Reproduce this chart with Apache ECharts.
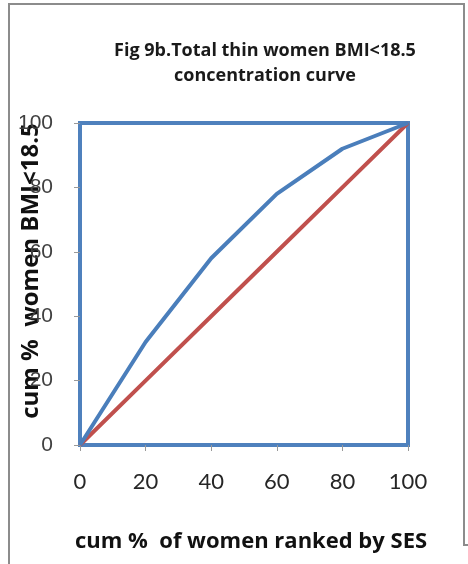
<!DOCTYPE html>
<html>
<head>
<meta charset="utf-8">
<script src="https://cdn.jsdelivr.net/npm/echarts@6/dist/echarts.min.js"></script>
<style>
  html, body { margin: 0; padding: 0; background: #fff; }
  #chart { width: 468px; height: 564px; }
</style>
</head>
<body>
<div id="chart"></div>
<script>
const cumPop = [0, 20, 40, 60, 80, 100];
const cumThin = [0, 32, 58, 78, 92, 100];
const equality = [0, 20, 40, 60, 80, 100];
const xTicks = [0, 20, 40, 60, 80, 100];
const yTicks = [0, 20, 40, 60, 80, 100];

const chart = echarts.init(document.getElementById('chart'));

chart.setOption({
    animation: false,
    title: {
        text: 'Fig 9b.Total thin women BMI<18.5\nconcentration curve',
        left: 260, top: 33, textAlign: 'center',
        textStyle: { fontFamily: 'Open Sans', fontWeight: 'bold', fontSize: 18, color: '#1a1a1a', lineHeight: 25, align: 'center' }
    },
    graphic: [
        { type: 'polyline', shape: { points: [[9, 564], [9, 4], [464, 4], [464, 545], [468, 545]] },
          style: { stroke: '#8c8c8c', lineWidth: 2, fill: null } }
    ],
    grid: { left: 80, right: 60, top: 123, bottom: 119, outerBoundsMode: 'none', containLabel: false,
            show: true, borderColor: '#4f81bd', borderWidth: 4, backgroundColor: 'transparent' },
    xAxis: {
        type: 'value', min: 0, max: 100, interval: 20,
        name: 'cum %  of women ranked by SES', nameLocation: 'middle', nameGap: 86, nameMoveOverlap: false,
        nameTextStyle: { fontFamily: 'Open Sans', fontWeight: 'bold', fontSize: 22, color: '#111', padding: [0, 0, 0, 14] },
        axisLine: { show: false },
        axisTick: { show: true, length: 6, lineStyle: { color: '#999', width: 1 } },
        axisLabel: { fontFamily: 'Lato', fontSize: 22, color: '#262626', margin: 26, formatter: v => xTicks.includes(v) ? String(v) : '' },
        splitLine: { show: false }
    },
    yAxis: {
        type: 'value', min: 0, max: 100, interval: 20,
        name: 'cum %  women BMI<18.5', nameLocation: 'middle', nameGap: 37, nameRotate: 90, nameMoveOverlap: false,
        nameTextStyle: { fontFamily: 'Open Sans', fontWeight: 'bold', fontSize: 24, color: '#111', padding: [0, 0, 0, 26] },
        axisLine: { show: false },
        axisTick: { show: true, length: 6, lineStyle: { color: '#999', width: 1 } },
        axisLabel: { fontFamily: 'Liberation Sans', fontSize: 21, color: '#404040', margin: 27, formatter: v => yTicks.includes(v) ? String(v) : '' },
        splitLine: { show: false }
    },
    series: [
        { name: 'equality', type: 'line', data: equality.map((v, i) => [cumPop[i], v]), showSymbol: false, z: 3,
          lineStyle: { color: '#c0504d', width: 4 } },
        { name: 'concentration', type: 'line', data: cumThin.map((v, i) => [cumPop[i], v]), showSymbol: false, z: 4,
          lineStyle: { color: '#4a7ebb', width: 4 } }
    ]
});
</script>
</body>
</html>
